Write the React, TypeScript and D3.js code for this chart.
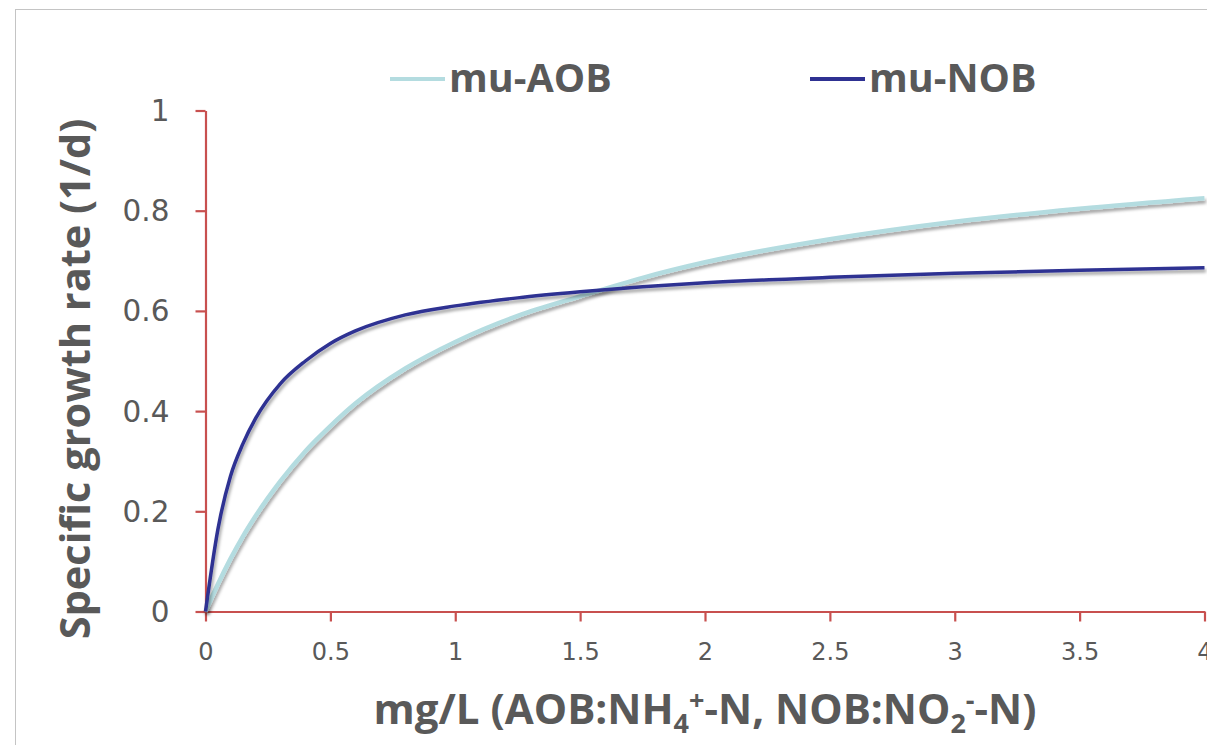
import React, { useEffect, useRef } from 'react'
import * as d3 from 'd3'

// substrate concentration (mg/L)
const conc = [0, 0.05, 0.1, 0.15, 0.2, 0.3, 0.4, 0.5, 0.6, 0.8, 1, 1.25, 1.5, 1.75, 2, 2.5, 3, 3.5, 4]
// specific growth rates (1/d)
const muAOB = [0, 0.055, 0.105, 0.15, 0.19, 0.26, 0.32, 0.37, 0.415, 0.485, 0.538, 0.59, 0.629, 0.666, 0.697, 0.743, 0.778, 0.804, 0.825]
const muNOB = [0, 0.165, 0.27, 0.335, 0.385, 0.455, 0.5, 0.535, 0.56, 0.592, 0.61, 0.626, 0.638, 0.648, 0.656, 0.667, 0.675, 0.681, 0.686]
const xTicks = [0, 0.5, 1, 1.5, 2, 2.5, 3, 3.5, 4]
const yTicks = [0, 0.2, 0.4, 0.6, 0.8, 1]
const seriesNames = ['mu-AOB', 'mu-NOB']
const seriesColors = ['#B4DCE0', '#2E3192']

const W = 1207, H = 745
const AXIS = '#C8504F'
const GRAY = '#595959'
const TITLE_FONT = '"Open Sans", "Noto Sans", sans-serif'
const TICK_FONT = '"DejaVu Sans", Verdana, sans-serif'

export default function App() {
  const ref = useRef<SVGSVGElement>(null)

  useEffect(() => {
    document.body.style.margin = '0'
    const svg = d3.select(ref.current)
    svg.selectAll('*').remove()

    const x = d3.scaleLinear().domain([0, 4]).range([205.5, 1204.5])
    const y = d3.scaleLinear().domain([0, 1]).range([611.5, 110.5])

    const defs = svg.append('defs')
    const f = defs.append('filter').attr('id', 'shadow')
      .attr('x', '-5%').attr('y', '-5%').attr('width', '110%').attr('height', '120%')
    f.append('feDropShadow').attr('dx', 1.5).attr('dy', 3).attr('stdDeviation', 1.6)
      .attr('flood-color', '#000').attr('flood-opacity', 0.35)

    // outer frame
    svg.append('rect').attr('x', 15.5).attr('y', 9.5).attr('width', 1300).attr('height', 900)
      .attr('fill', 'none').attr('stroke', '#C4C4C4').attr('stroke-width', 1)

    // y axis
    const gy = svg.append('g').attr('transform', `translate(${x(0)},0)`)
      .call(d3.axisLeft(y).tickValues(yTicks).tickSize(10).tickSizeOuter(0).tickPadding(26)
        .tickFormat(d => String(d)))
    gy.select('.domain').attr('stroke', AXIS).attr('stroke-width', 2.2)
    gy.selectAll('.tick line').attr('stroke', AXIS).attr('stroke-width', 2.2)
    gy.selectAll('.tick text').attr('fill', GRAY).style('font-family', TICK_FONT).style('font-size', '29.5px')
      .attr('dy', '0.34em')

    // x axis
    const gx = svg.append('g').attr('transform', `translate(0,${y(0)})`)
      .call(d3.axisBottom(x).tickValues(xTicks).tickSize(10).tickSizeOuter(0).tickPadding(21)
        .tickFormat(d => String(d)))
    gx.select('.domain').attr('stroke', AXIS).attr('stroke-width', 2.2)
    gx.selectAll('.tick line').attr('stroke', AXIS).attr('stroke-width', 2.2)
    gx.selectAll('.tick text').attr('fill', GRAY).style('font-family', TICK_FONT).style('font-size', '24px')

    // curves
    const line = d3.line<number>()
      .x((d, i) => x(conc[i]))
      .y(d => y(d))
      .curve(d3.curveMonotoneX)
    ;[muAOB, muNOB].forEach((s, i) => {
      svg.append('path').datum(s)
        .attr('d', line)
        .attr('fill', 'none')
        .attr('stroke', seriesColors[i])
        .attr('stroke-width', i === 0 ? 4.5 : 3.5)
        .attr('stroke-linejoin', 'round')
        .attr('filter', 'url(#shadow)')
    })

    // legend
    const legX = [390, 810]
    seriesNames.forEach((name, i) => {
      svg.append('line').attr('x1', legX[i]).attr('x2', legX[i] + 55)
        .attr('y1', 79).attr('y2', 79)
        .attr('stroke', seriesColors[i]).attr('stroke-width', 4)
      svg.append('text').attr('x', legX[i] + 59).attr('y', 92)
        .attr('fill', GRAY).style('font-family', TITLE_FONT).style('font-weight', 700)
        .style('font-size', '39.5px').text(name)
    })

    // x title
    const xt = svg.append('text').attr('x', 705).attr('y', 724).attr('text-anchor', 'middle')
      .attr('fill', GRAY).style('font-family', TITLE_FONT).style('font-weight', 700).style('font-size', '42px')
    xt.append('tspan').text('mg/L (AOB:NH')
    xt.append('tspan').attr('dy', 9).style('font-size', '27px').text('4')
    xt.append('tspan').attr('dy', -23).style('font-size', '27px').text('+')
    xt.append('tspan').attr('dy', 14).text('-N, NOB:NO')
    xt.append('tspan').attr('dy', 9).style('font-size', '27px').text('2')
    xt.append('tspan').attr('dy', -23).style('font-size', '27px').text('-')
    xt.append('tspan').attr('dy', 14).text('-N)')

    // y title
    svg.append('text').attr('transform', 'translate(90,379) rotate(-90)').attr('text-anchor', 'middle')
      .attr('fill', GRAY).style('font-family', TITLE_FONT).style('font-weight', 700).style('font-size', '41.5px')
      .text('Specific growth rate (1/d)')
  }, [])

  return <svg ref={ref} width={W} height={H} style={{ display: 'block', background: '#fff' }} />
}
